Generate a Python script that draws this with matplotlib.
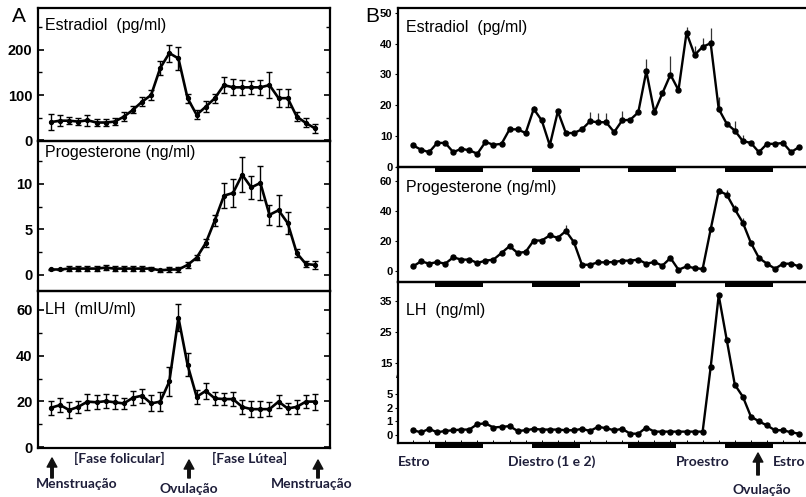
import numpy as np
import matplotlib
matplotlib.use("Agg")
import matplotlib.pyplot as plt
import matplotlib.transforms as mtransforms
from matplotlib.patches import Rectangle
from matplotlib.ticker import MultipleLocator, FixedLocator

plt.rcParams['font.family'] = ['Liberation Sans', 'DejaVu Sans']

# --- Painel A: ciclo menstrual (30 dias) ---
estradiol_a = [40, 43, 43, 41, 44, 39, 39, 41, 52, 67, 85, 100, 160, 193, 181,
               93, 56, 74, 93, 122, 117, 117, 117, 117, 122, 93, 93, 52, 38, 26]
estradiol_a_err = [18, 12, 8, 8, 12, 8, 8, 8, 10, 8, 10, 12, 15, 19, 25,
                   10, 10, 12, 10, 18, 18, 16, 15, 16, 28, 20, 20, 10, 10, 10]
progest_a = [0.6, 0.6, 0.7, 0.7, 0.7, 0.7, 0.8, 0.7, 0.7, 0.7, 0.7, 0.7, 0.5, 0.6, 0.6,
             1.1, 1.9, 3.5, 6.0, 8.7, 9.0, 11.0, 9.6, 10.1, 6.6, 7.1, 5.7, 2.4, 1.2, 1.1]
progest_a_err = [0.1, 0.1, 0.3, 0.3, 0.3, 0.3, 0.3, 0.3, 0.3, 0.3, 0.3, 0.2, 0.2, 0.3, 0.3,
                 0.3, 0.3, 0.4, 0.6, 1.4, 1.5, 1.9, 1.3, 1.9, 1.1, 1.7, 1.2, 0.4, 0.3, 0.4]
lh_a = [17.2, 18.4, 16.2, 17.6, 19.9, 19.6, 20.1, 19.6, 19.1, 21.6, 22.5, 19.1, 19.9, 28.7, 56.6,
        36, 22, 24.6, 21.3, 21, 21, 17.6, 16.6, 16.6, 16.6, 19.9, 16.9, 17.6, 19.9, 19.9]
lh_a_err = [3, 3, 3.5, 2.5, 3.5, 3, 3, 3, 2.5, 3, 3, 3.5, 4, 6.5, 6,
            5, 3, 3.5, 3, 2.5, 3, 3, 3.5, 3.5, 3, 3, 2.5, 3, 3, 3.5]
dias_a = np.arange(len(lh_a))

# --- Painel B: ciclo estral (amostras a cada 2 h, 4 dias) ---
estradiol_b = [7.0, 5.6, 4.8, 7.8, 7.8, 4.8, 5.9, 5.4, 4.3, 8.1, 7.2, 7.5, 12.2, 12.2, 11.0,
               18.8, 15.1, 7.0, 18.0, 11.0, 11.0, 12.2, 14.8, 14.5, 14.5, 11.3, 15.1, 15.3, 17.7,
               31.0, 17.7, 23.9, 29.9, 24.9, 43.5, 36.3, 38.9, 40.1, 18.8, 14.0, 11.8, 8.4, 7.8,
               4.8, 7.5, 7.5, 7.8, 4.8, 6.5]
estradiol_b_up = [0, 0, 0, 0, 0, 0, 0, 0, 0, 0, 0, 0, 0, 0, 0,
                  1, 0, 0, 0, 0, 0, 0, 3, 3, 3, 0, 3, 0, 0,
                  4, 0, 0, 6, 2, 2, 3, 3, 5, 4, 0, 3, 2, 0,
                  0, 0, 0, 0, 0, 0]
progest_b = [3.3, 6.7, 5.1, 6.2, 5.1, 9.3, 7.8, 7.8, 5.6, 7.1, 7.8, 12.2, 16.7, 12.2, 12.9,
             20.4, 20.4, 23.8, 22.2, 26.7, 19.3, 4.4, 4.4, 6.0, 6.0, 6.2, 7.1, 7.1, 7.8,
             5.1, 6.2, 3.8, 8.9, 1.1, 3.3, 2.2, 1.6, 27.8, 53.3, 50.7, 41.1, 32.2, 18.9,
             8.9, 5.1, 1.8, 5.1, 5.1, 3.3]
progest_b_up = [0] * 19 + [4] + [0] * 18 + [2, 3, 3, 3] + [0] * 7
lh_b = [0.35, 0.2, 0.45, 0.2, 0.3, 0.35, 0.4, 0.4, 0.8, 0.85, 0.55, 0.6, 0.65, 0.3, 0.35,
        0.45, 0.4, 0.4, 0.4, 0.35, 0.35, 0.45, 0.3, 0.6, 0.5, 0.35, 0.45, 0.1, 0.1,
        0.55, 0.25, 0.25, 0.25, 0.25, 0.25, 0.25, 0.25, 13.7, 37, 22.5, 8, 4.4, 1.35,
        1.0, 0.7, 0.35, 0.35, 0.2, 0.1]
amostras_b = np.arange(len(lh_b))
lh_b_ticks = [0, 1, 2, 5, 15, 25, 35]

# periodos de escuro (barras pretas)
escuro_ini = [2.75, 14.75, 26.75, 38.75]
escuro_dur = 6

W, H = 806, 497
fig = plt.figure(figsize=(W / 100, H / 100), dpi=100)


def caixa(x0, y0, x1, y1):
    # converte pixels (origem no topo) em fracao da figura
    return [x0 / W, 1 - y1 / H, (x1 - x0) / W, (y1 - y0) / H]


cor_txt = '#1e1e3a'

# ---------------- Painel A ----------------
ax_a1 = fig.add_axes(caixa(38, 8, 330, 141))
ax_a2 = fig.add_axes(caixa(38, 141, 330, 291))
ax_a3 = fig.add_axes(caixa(38, 291, 330, 448))

series_a = [
    (ax_a1, estradiol_a, estradiol_a_err, (-2, 293), 100, 50, 'Estradiol  (pg/ml)', 0.872),
    (ax_a2, progest_a, progest_a_err, (-1.76, 14.7), 5, 2.5, 'Progesterone (ng/ml)', 0.92),
    (ax_a3, lh_a, lh_a_err, (-0.4, 68.3), 20, 10, 'LH  (mIU/ml)', 0.88),
]
for ax, y, err, lim, maj, mnr, titulo, ty in series_a:
    ax.patch.set_visible(False)
    ax.errorbar(dias_a, y, yerr=err, fmt='-o', color='black', lw=1.9, ms=2.8,
                elinewidth=1.0, capsize=2.2, capthick=1.0)
    ax.set_xlim(-1.43, 30.65)
    ax.set_ylim(*lim)
    ax.yaxis.set_major_locator(MultipleLocator(maj))
    ax.yaxis.set_minor_locator(MultipleLocator(mnr))
    ax.set_xticks([])
    ax.tick_params(axis='y', which='both', direction='in', left=True, right=True,
                   labelsize=10.5, pad=4)
    ax.tick_params(axis='y', which='major', length=4, width=1.2)
    ax.tick_params(axis='y', which='minor', length=3, width=1.0)
    for lb in ax.get_yticklabels():
        lb.set_fontweight('bold')
    for s in ax.spines.values():
        s.set_linewidth(1.6)
    ax.text(0.024, ty, titulo, transform=ax.transAxes, fontsize=11.5,
            ha='left', va='center')

fig.text(12 / W, 1 - 17 / H, 'A', fontsize=15, ha='left', va='center')

# legendas abaixo do painel A
fig.text(119 / W, 1 - 458 / H, '[Fase folicular]', family='Lato', fontweight='bold',
         fontsize=10, color=cor_txt, ha='center', va='center')
fig.text(250 / W, 1 - 458 / H, '[Fase Lútea]', family='Lato', fontweight='bold',
         fontsize=10, color=cor_txt, ha='center', va='center')
fig.text(77 / W, 1 - 484 / H, 'Menstruação', family='Lato', fontweight='bold',
         fontsize=10, color=cor_txt, ha='center', va='center')
fig.text(189 / W, 1 - 489 / H, 'Ovulação', family='Lato', fontweight='bold',
         fontsize=10, color=cor_txt, ha='center', va='center')
fig.text(312 / W, 1 - 484 / H, 'Menstruação', family='Lato', fontweight='bold',
         fontsize=10, color=cor_txt, ha='center', va='center')

seta = dict(width=1.8, headwidth=7, headlength=6.5, shrink=0, color='#111111')
for xs, y0, y1 in [(52, 478, 458), (189, 478, 460), (318, 478, 460), (758, 475, 453)]:
    fig.add_artist(plt.matplotlib.text.Annotation(
        '', xy=(xs / W, 1 - y1 / H), xytext=(xs / W, 1 - y0 / H),
        xycoords='figure fraction', textcoords='figure fraction', arrowprops=seta))

# ---------------- Painel B ----------------
ax_b1 = fig.add_axes(caixa(398, 8, 808, 167))
ax_b2 = fig.add_axes(caixa(398, 167, 808, 282))
ax_b3 = fig.add_axes(caixa(398, 282, 808, 443))

# escala do LH quebrada: 0-1-2-5 comprimidos, depois linear
k = 0.225
v_pts = np.array([-10, 0, 1, 2, 5, 100])
p_pts = np.array([-10, 0, 1, 2, 3, 3 + 95 * k])


def fwd(v):
    return np.interp(v, v_pts, p_pts)


def inv(p):
    return np.interp(p, p_pts, v_pts)


ax_b3.set_yscale('function', functions=(fwd, inv))

series_b = [
    (ax_b1, estradiol_b, estradiol_b_up, (0, 51.5), [0, 10, 20, 30, 40, 50], 'Estradiol  (pg/ml)', 0.88),
    (ax_b2, progest_b, progest_b_up, (-7, 69), [0, 20, 40, 60], 'Progesterone (ng/ml)', 0.82),
    (ax_b3, lh_b, None, (-0.58, 41.3), lh_b_ticks, 'LH  (ng/ml)', 0.826),
]
for ax, y, up, lim, ticks, titulo, ty in series_b:
    ax.patch.set_visible(False)
    if up is not None:
        ax.errorbar(amostras_b, y, yerr=[np.zeros(len(up)), up], fmt='none',
                    ecolor='#333333', elinewidth=0.9, capsize=0)
    ax.plot(amostras_b, y, '-o', color='black', lw=1.7, ms=3.6)
    ax.set_xlim(-1.87, 49.1)
    ax.set_ylim(*lim)
    ax.yaxis.set_major_locator(FixedLocator(ticks))
    ax.yaxis.set_minor_locator(FixedLocator([]))
    ax.set_yticklabels([str(t) for t in ticks])
    ax.set_xticks([])
    ax.tick_params(axis='y', direction='out', length=2.5, width=0.8, labelsize=8, pad=1.5)
    for lb in ax.get_yticklabels():
        lb.set_fontweight('bold')
    for s in ax.spines.values():
        s.set_linewidth(1.6)
    ax.text(0.02, ty, titulo, transform=ax.transAxes, fontsize=11.5,
            ha='left', va='center')
    # barras do periodo escuro logo abaixo do eixo
    alt = 5 / (ax.get_position().height * H)
    trans = mtransforms.blended_transform_factory(ax.transData, ax.transAxes)
    for ini in escuro_ini:
        ax.add_patch(Rectangle((ini, -alt), escuro_dur, alt, transform=trans,
                               color='black', clip_on=False, lw=0))

# pequenas marcas no eixo inferior do LH
ax_b3.set_xticks(amostras_b[::2])
ax_b3.set_xticklabels([])
ax_b3.tick_params(axis='x', direction='in', length=2, width=0.7)

# marca de quebra da escala
trans_q = mtransforms.blended_transform_factory(ax_b3.transAxes, ax_b3.transData)
ax_b3.text(0, 11, '/', transform=trans_q, fontsize=8, ha='center', va='center')

fig.text(365 / W, 1 - 17 / H, 'B', fontsize=15, ha='left', va='center')

fig.text(414 / W, 1 - 462 / H, 'Estro', family='Lato', fontweight='bold',
         fontsize=10, color=cor_txt, ha='center', va='center')
fig.text(552 / W, 1 - 462 / H, 'Diestro (1 e 2)', family='Lato', fontweight='bold',
         fontsize=10, color=cor_txt, ha='center', va='center')
fig.text(703 / W, 1 - 462 / H, 'Proestro', family='Lato', fontweight='bold',
         fontsize=10, color=cor_txt, ha='center', va='center')
fig.text(773 / W, 1 - 462 / H, 'Estro', family='Lato', fontweight='bold',
         fontsize=10, color=cor_txt, ha='left', va='center')
fig.text(762 / W, 1 - 490 / H, 'Ovulação', family='Lato', fontweight='bold',
         fontsize=10, color=cor_txt, ha='center', va='center')

fig.savefig('out.png', dpi=100, facecolor='white')
